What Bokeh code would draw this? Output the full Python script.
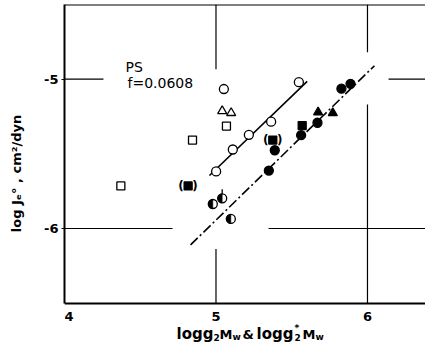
import math
from bokeh.plotting import figure
from bokeh.models import Label, Span, FixedTicker
from bokeh.core.properties import value
from bokeh.embed import file_html
from bokeh.resources import INLINE

# ---- data ----
open_circle_x = [5.052, 5.547, 5.364, 5.217, 5.111, 5.001]
open_circle_y = [-5.066, -5.020, -5.285, -5.373, -5.471, -5.618]
open_tri_x = [5.041, 5.100]
open_tri_y = [-5.213, -5.226]
open_sq_x = [5.069, 4.845, 4.372]
open_sq_y = [-5.314, -5.408, -5.715]
paren_sq_x = [4.816, 5.375]
paren_sq_y = [-5.715, -5.408]
filled_circle_x = [5.388, 5.349, 5.562, 5.670, 5.828, 5.888]
filled_circle_y = [-5.476, -5.612, -5.375, -5.292, -5.064, -5.031]
filled_sq_x = [5.569]
filled_sq_y = [-5.311]
filled_tri_x = [5.674, 5.771]
filled_tri_y = [-5.222, -5.226]
half_circle_x = [4.979, 5.041, 5.098]
half_circle_y = [-5.836, -5.798, -5.936]
pip_x = [5.041]
pip_y = [-5.798]

solid_x = [4.957, 5.602]
solid_y = [-5.645, -5.015]
dashdot_x = [4.832, 6.046]
dashdot_y = [-6.110, -4.910]

x_ticks = [4, 5, 6]
y_ticks = [-6, -5]
# the leading no-break spaces keep the "4" clear of the frame's left clip
x_tick_labels = {4: "\u00a0\u00a04", 5: "5", 6: "6"}
y_tick_labels = {-6: "-6", -5: "-5"}

X0, X1 = 4.0, 6.383
AX_BOTTOM, Y1 = -6.5, -4.5
PX_PER_Y = 148.0
TOP = 4
H = 342
FRAME_H = H - TOP - 3
Y0 = Y1 - FRAME_H / PX_PER_Y   # frame runs (nearly) to the canvas bottom

FONT = "DejaVu Sans"

p = figure(width=425, height=H, x_range=(X0, X1), y_range=(Y0, Y1),
           output_backend="svg", toolbar_location=None,
           min_border_left=64, min_border_right=0, min_border_top=TOP,
           min_border_bottom=0)
p.outline_line_color = None
p.grid.visible = False
p.background_fill_color = "white"

# axes
p.xaxis.ticker = FixedTicker(ticks=x_ticks)
p.yaxis.ticker = FixedTicker(ticks=y_ticks)
p.xaxis.major_label_overrides = x_tick_labels
p.yaxis.major_label_overrides = y_tick_labels
p.xaxis.fixed_location = AX_BOTTOM
p.yaxis.bounds = (AX_BOTTOM, Y1)
for ax in (p.xaxis, p.yaxis):
    ax.axis_line_width = 2
    ax.axis_line_color = "black"
    ax.minor_tick_line_color = None
    ax.major_label_text_font = FONT
    ax.major_label_text_font_style = "bold"
    ax.major_label_text_font_size = "13px"
    ax.major_label_text_color = "black"
    ax.major_tick_in = 0
p.xaxis.major_tick_out = 0
p.xaxis.major_label_standoff = 6
p.yaxis.major_tick_out = 3
p.yaxis.major_tick_line_width = 1
p.yaxis.major_label_standoff = 3

p.yaxis.axis_label = "log Jₑ° , cm²/dyn"
p.yaxis.axis_label_text_font = FONT
p.yaxis.axis_label_text_font_style = "bold"
p.yaxis.axis_label_text_font_size = "13px"
p.yaxis.axis_label_text_color = "black"
p.yaxis.axis_label_standoff = 17

p.add_layout(Span(location=Y1, dimension="width", line_color="black", line_width=2))

# partial reference lines
seg_x0 = [5, 5, 6, 6, X0, 6.139, X0, 5.347]
seg_y0 = [Y1, -6.138, Y1, -5.17, -5, -5, -6, -6]
seg_x1 = [5, 5, 6, 6, 4.257, X1, 4.713, X1]
seg_y1 = [-4.934, AX_BOTTOM, -4.82, AX_BOTTOM, -5, -5, -6, -6]
p.segment(seg_x0, seg_y0, seg_x1, seg_y1, line_color="black", line_width=1.2)

# fit lines
p.line(solid_x, solid_y, line_color="black", line_width=1.6)
p.line(dashdot_x, dashdot_y, line_color="black", line_width=1.6, line_dash="10 3 2 3")

# markers
lw = 1.3
p.scatter(open_circle_x, open_circle_y, marker="circle", size=9, fill_color="white",
          line_color="black", line_width=lw)
p.scatter(open_tri_x, open_tri_y, marker="triangle", size=9, fill_color="white",
          line_color="black", line_width=lw)
p.scatter(open_sq_x, open_sq_y, marker="square", size=8, fill_color="white",
          line_color="black", line_width=lw)
p.scatter(paren_sq_x, paren_sq_y, marker="square", size=8, fill_color="black",
          line_color="black", line_width=lw)
p.text(paren_sq_x, paren_sq_y, text=["("] * len(paren_sq_x), x_offset=-7,
       text_align="center", text_baseline="middle", text_font=value(FONT),
       text_font_size="12px", text_font_style="bold", text_color="black")
p.text(paren_sq_x, paren_sq_y, text=[")"] * len(paren_sq_x), x_offset=7,
       text_align="center", text_baseline="middle", text_font=value(FONT),
       text_font_size="12px", text_font_style="bold", text_color="black")
p.scatter(filled_circle_x, filled_circle_y, marker="circle", size=9, fill_color="black",
          line_color="black", line_width=lw)
p.scatter(filled_sq_x, filled_sq_y, marker="square", size=8, fill_color="black",
          line_color="black", line_width=lw)
p.scatter(filled_tri_x, filled_tri_y, marker="triangle", size=9, fill_color="black",
          line_color="black", line_width=lw)
p.ray(pip_x, pip_y, length=9, length_units="screen", angle=math.pi / 2,
      line_color="black", line_width=1.3)
p.scatter(half_circle_x, half_circle_y, marker="circle", size=9, fill_color="white",
          line_color="black", line_width=lw)
p.wedge(half_circle_x, half_circle_y, radius=4.5, radius_units="screen",
        start_angle=math.pi / 2, end_angle=3 * math.pi / 2,
        fill_color="black", line_color="black", line_width=0.5)

# annotation text
p.add_layout(Label(x=4.403, y=-4.921, text="PS", text_font=FONT, text_font_size="14px",
                   text_color="black", text_baseline="alphabetic"))
p.add_layout(Label(x=4.416, y=-5.026, text="f=0.0608", text_font=FONT,
                   text_font_size="14px", text_color="black", text_baseline="alphabetic"))


def dx(px):
    return X0 + (px - 64) / 151.5


def dy(py):
    return Y1 - (py - TOP) / PX_PER_Y


# x-axis title built from pieces (subscripts)
base = 331
pieces = [
    ("logg", 176, base, "15px"),
    ("2", 213, base + 3, "9px"),
    ("M", 219, base, "13px"),
    ("w", 232, base + 3, "9px"),
    ("&", 242, base, "13px"),
    ("logg", 256, base, "15px"),
    ("*", 294, base - 6, "9px"),
    ("2", 294, base + 3, "9px"),
    ("M", 302, base, "13px"),
    ("w", 315, base + 3, "9px"),
]
for txt, px, py, fs in pieces:
    p.add_layout(Label(x=dx(px), y=dy(py), text=txt, text_font=FONT,
                       text_font_style="bold", text_font_size=fs,
                       text_color="black", text_align="left",
                       text_baseline="alphabetic"))

open("out.html", "w").write(file_html(p, INLINE))
